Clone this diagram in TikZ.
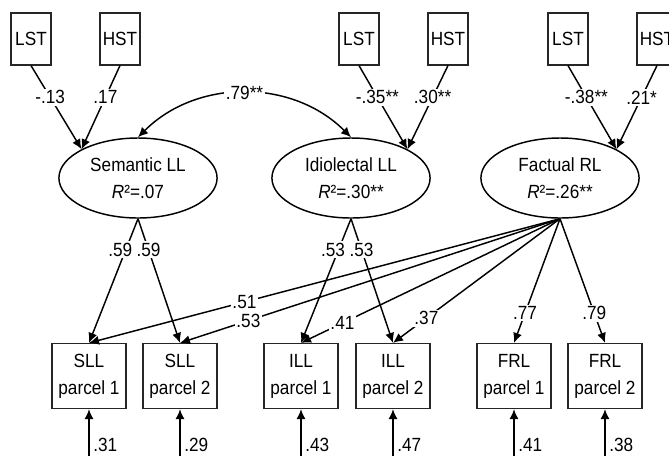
\documentclass[tikz,border=0pt]{standalone}
\usepackage{fontspec}
\setmainfont{Liberation Sans}[FakeStretch=0.9]
\usetikzlibrary{shapes.geometric,arrows.meta}

\begin{document}
\begin{tikzpicture}[x=0.55pt, y=-0.55pt,
    >={Latex[length=5.5pt,width=5pt]},
    font=\fontsize{10.5}{14.8}\selectfont,
    pred/.style={draw=black!85, line width=0.6pt, rectangle, minimum width=22pt, minimum height=28.6pt, inner sep=0pt},
    obs/.style={draw=black!85, line width=0.6pt, rectangle, align=center, minimum width=40.7pt, minimum height=35.8pt, inner sep=0pt},
    lat/.style={draw, line width=0.8pt, ellipse, align=center, minimum width=87pt, minimum height=44pt, inner sep=0pt},
    link/.style={every edge/.style={draw, line width=0.8pt, ->}},
    lbl/.style={fill=white, inner sep=1pt},
    err/.style={anchor=west, inner sep=2pt}]
                \useasboundingbox (0,0) rectangle (669,455);
                % predictors
                \node[pred] (lst1) at (31,39) {LST};
                \node[pred] (hst1) at (120,39) {HST};
                \node[pred] (lst2) at (359,39) {LST};
                \node[pred] (hst2) at (448,39) {HST};
                \node[pred] (lst3) at (568,39) {LST};
                \node[pred] (hst3) at (657,39) {HST};
                % latent variables
                \node[lat] (sem) at (138,178) {Semantic LL\\\textit{R}²=.07};
                \node[lat] (idio) at (351,178) {Idiolectal LL\\\textit{R}²=.30**};
                \node[lat] (fact) at (560,178) {Factual RL\\\textit{R}²=.26**};
                % parcels
                \node[obs] (sll1) at (89,376) {SLL\\parcel 1};
                \node[obs] (sll2) at (180,376) {SLL\\parcel 2};
                \node[obs] (ill1) at (301,376) {ILL\\parcel 1};
                \node[obs] (ill2) at (393,376) {ILL\\parcel 2};
                \node[obs] (frl1) at (514,376) {FRL\\parcel 1};
                \node[obs] (frl2) at (605,376) {FRL\\parcel 2};
                \coordinate (e1) at (89,460);
                \coordinate (e2) at (180,460);
                \coordinate (e3) at (301,460);
                \coordinate (e4) at (393,460);
                \coordinate (e5) at (514,460);
                \coordinate (e6) at (605,460);
                \path [link]
                    (lst1.south) edge node[lbl, pos=0.38] {-.13} (sem.north west)
                    (hst1.south) edge node[lbl, pos=0.38] {.17} (sem.north west)
                    (lst2.south) edge node[lbl, pos=0.38] {-.35**} (idio.north east)
                    (hst2.south) edge node[lbl, pos=0.38] {.30**} (idio.north east)
                    (lst3.south) edge node[lbl, pos=0.38] {-.38**} (fact.north east)
                    (hst3.south) edge node[lbl, pos=0.38] {.21*} (fact.north east);
                \draw [line width=0.8pt, <->] (sem.north) to[out=45, in=135]
                    node[lbl] {.79**} (idio.north);
                \path [link]
                    (sem.south) edge node[lbl, pos=0.25, xshift=-3pt] {.59} (sll1.north)
                    (sem.south) edge node[lbl, pos=0.25] {.59} (sll2.north)
                    (idio.south) edge node[lbl, pos=0.25, xshift=-3pt] {.53} (ill1.north)
                    (idio.south) edge node[lbl, pos=0.25] {.53} (ill2.north)
                    (fact.south) edge node[lbl, pos=0.67] {.51} (sll1.north)
                    (fact.south) edge node[lbl, pos=0.82] {.53} (sll2.north)
                    (fact.south) edge node[lbl, pos=0.84] {.41} (ill1.north)
                    (fact.south) edge node[lbl, pos=0.8] {.37} (ill2.north)
                    (fact.south) edge node[lbl, pos=0.76] {.77} (frl1.north)
                    (fact.south) edge node[lbl, pos=0.76] {.79} (frl2.north);
                \path [link]
                    (e1) edge node[err, pos=0.3] {.31} (sll1.south)
                    (e2) edge node[err, pos=0.3] {.29} (sll2.south)
                    (e3) edge node[err, pos=0.3] {.43} (ill1.south)
                    (e4) edge node[err, pos=0.3] {.47} (ill2.south)
                    (e5) edge node[err, pos=0.3] {.41} (frl1.south)
                    (e6) edge node[err, pos=0.3] {.38} (frl2.south);
            \end{tikzpicture}
\end{document}
